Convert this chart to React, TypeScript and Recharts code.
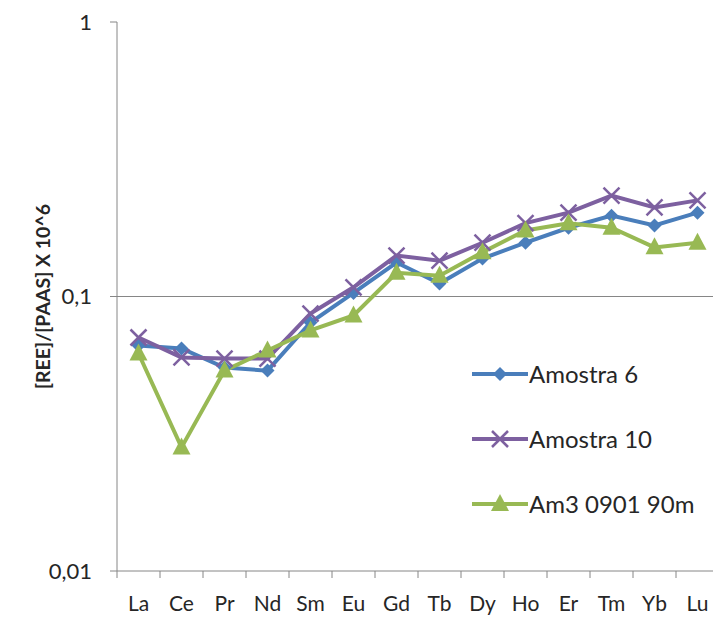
import React from "react";
import {
  LineChart,
  Line,
  XAxis,
  YAxis,
  ReferenceLine,
  Legend,
} from "recharts";

// REE patterns normalised to PAAS (log scale)
const elements = ["La", "Ce", "Pr", "Nd", "Sm", "Eu", "Gd", "Tb", "Dy", "Ho", "Er", "Tm", "Yb", "Lu"];
const amostra6 = [0.0663, 0.0647, 0.0551, 0.0537, 0.0804, 0.103, 0.133, 0.1115, 0.1375, 0.157, 0.178, 0.197, 0.1815, 0.202];
const amostra10 = [0.0709, 0.06, 0.0594, 0.0594, 0.0867, 0.108, 0.141, 0.135, 0.157, 0.185, 0.202, 0.233, 0.211, 0.224];
const am3 = [0.062, 0.0282, 0.0537, 0.0636, 0.0752, 0.0853, 0.122, 0.119, 0.145, 0.174, 0.185, 0.178, 0.151, 0.157];
const yTicks = [0.01, 0.1, 1];

const data = elements.map((el, i) => ({
  el,
  a6: amostra6[i],
  a10: amostra10[i],
  am3: am3[i],
}));

const BLUE = "#4A7EBB";
const PURPLE = "#7D60A0";
const GREEN = "#98B954";
const AXIS = "#868686";
const FONT = "Lato, 'Open Sans', sans-serif";

const Diamond = ({ cx, cy, color }: any) => (
  <polygon
    points={`${cx},${cy - 7} ${cx + 7},${cy} ${cx},${cy + 7} ${cx - 7},${cy}`}
    fill={color}
  />
);

const Cross = ({ cx, cy, color }: any) => (
  <g stroke={color} strokeWidth={2.5}>
    <line x1={cx - 8} y1={cy - 8} x2={cx + 8} y2={cy + 8} />
    <line x1={cx - 8} y1={cy + 8} x2={cx + 8} y2={cy - 8} />
  </g>
);

const Triangle = ({ cx, cy, color }: any) => (
  <polygon
    points={`${cx},${cy - 10} ${cx + 9},${cy + 7} ${cx - 9},${cy + 7}`}
    fill={color}
  />
);

const series = [
  { key: "a6", name: "Amostra 6", color: BLUE, Marker: Diamond },
  { key: "a10", name: "Amostra 10", color: PURPLE, Marker: Cross },
  { key: "am3", name: "Am3 0901 90m", color: GREEN, Marker: Triangle },
];

// category labels with tick marks on the band boundaries
const ElementTick = (props: any) => {
  const { x, y, payload } = props;
  const half = payload && payload.offset ? payload.offset : 21.5;
  return (
    <g>
      <line x1={x - half} y1={y} x2={x - half} y2={y + 7} stroke={AXIS} />
      <text
        x={x}
        y={y + 40}
        textAnchor="middle"
        fontFamily={FONT}
        fontSize={21}
        fill="#262626"
      >
        {payload.value}
      </text>
    </g>
  );
};

const YLabel = ({ viewBox }: any) => {
  const cx = viewBox.x + 42;
  const cy = viewBox.y + viewBox.height / 2;
  return (
    <text
      x={cx}
      y={cy}
      transform={`rotate(-90, ${cx}, ${cy})`}
      textAnchor="middle"
      dominantBaseline="central"
      fontFamily={FONT}
      fontWeight="bold"
      fontSize={19.5}
      fill="#262626"
    >
      [REE]/[PAAS] X 10^6
    </text>
  );
};

const renderLegend = () => (
  <div style={{ fontFamily: FONT, fontSize: 24, color: "#262626" }}>
    {series.map((s) => (
      <div
        key={s.key}
        style={{ display: "flex", alignItems: "center", height: 65 }}
      >
        <svg width={56} height={24} style={{ marginRight: 1 }}>
          <line x1={0} y1={12} x2={56} y2={12} stroke={s.color} strokeWidth={4} />
          <s.Marker cx={28} cy={12} color={s.color} />
        </svg>
        <span>{s.name}</span>
      </div>
    ))}
  </div>
);

export default function App() {
  return (
    <div
      style={{
        position: "absolute",
        left: 0,
        top: 0,
        width: 713,
        height: 617,
        overflow: "hidden",
        background: "#fff",
      }}
    >
      <LineChart
        width={719}
        height={617}
        data={data}
        margin={{ top: 22, right: 0, bottom: 16, left: 0 }}
      >
        <ReferenceLine y={0.1} stroke={AXIS} strokeWidth={1} />
        <XAxis
          dataKey="el"
          scale="band"
          interval={0}
          height={30}
          tickSize={0}
          tickMargin={0}
          tickLine={false}
          axisLine={{ stroke: AXIS }}
          tick={<ElementTick />}
        />
        <YAxis
          scale="log"
          type="number"
          domain={[0.01, 1]}
          ticks={yTicks}
          allowDataOverflow
          width={117}
          tickSize={7}
          tickMargin={18}
          axisLine={{ stroke: AXIS }}
          tickLine={{ stroke: AXIS }}
          tickFormatter={(v: number) => String(v).replace(".", ",")}
          tick={{ fontFamily: FONT, fontSize: 22, fill: "#262626" }}
          label={<YLabel />}
        />
        <Legend
          layout="vertical"
          align="center"
          verticalAlign="middle"
          content={renderLegend}
          wrapperStyle={{ left: 472, top: 341, width: 260 }}
        />
        {series.map((s) => (
          <Line
            key={s.key}
            type="linear"
            dataKey={s.key}
            name={s.name}
            stroke={s.color}
            strokeWidth={4}
            dot={(p: any) => <s.Marker key={`${s.key}-${p.index}`} cx={p.cx} cy={p.cy} color={s.color} />}
            activeDot={false}
            isAnimationActive={false}
          />
        ))}
      </LineChart>
    </div>
  );
}
